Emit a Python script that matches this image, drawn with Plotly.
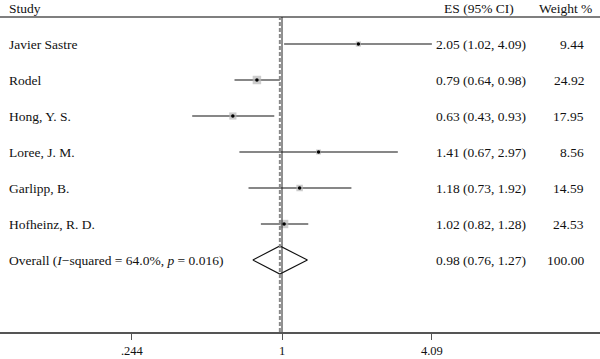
import plotly.graph_objects as go
import math

studies = ["Javier Sastre", "Rodel", "Hong, Y. S.", "Loree, J. M.", "Garlipp, B.", "Hofheinz, R. D."]
es = [2.05, 0.79, 0.63, 1.41, 1.18, 1.02]
lo = [1.02, 0.64, 0.43, 0.67, 0.73, 0.82]
hi = [4.09, 0.98, 0.93, 2.97, 1.92, 1.28]
weights = [9.44, 24.92, 17.95, 8.56, 14.59, 24.53]
overall_label = "Overall (<i>I</i>\u2212squared = 64.0%, <i>p</i> = 0.016)"
overall = {"es": 0.98, "lo": 0.76, "hi": 1.27, "weight": 100.00}
tick_vals = [0.244, 1, 4.09]
tick_text = [".244", "1", "4.09"]

W, H = 600, 359
FONT = "Liberation Serif"
n = len(studies)
rows = [n + 1 - i for i in range(n)]  # 7..2
orow = 1

fig = go.Figure()

# CI lines
for i in range(n):
    fig.add_trace(go.Scatter(x=[lo[i], hi[i]], y=[rows[i], rows[i]], mode="lines",
                             line=dict(color="#111", width=1.1), hoverinfo="skip", showlegend=False))
# weight boxes
fig.add_trace(go.Scatter(x=es, y=rows, mode="markers",
                         marker=dict(symbol="square", color="#b8b8b8",
                                     size=[1.7 * math.sqrt(w) for w in weights], line=dict(width=0)),
                         hoverinfo="skip", showlegend=False))
# center dots
fig.add_trace(go.Scatter(x=es, y=rows, mode="markers",
                         marker=dict(symbol="circle", color="black", size=3.5),
                         hoverinfo="skip", showlegend=False))
# diamond
dh = 0.39
fig.add_trace(go.Scatter(x=[overall["lo"], overall["es"], overall["hi"], overall["es"], overall["lo"]],
                         y=[orow, orow + dh, orow, orow - dh, orow], mode="lines",
                         line=dict(color="#111", width=1.1), hoverinfo="skip", showlegend=False))

ylo, yhi = -1, 1 + 260 / 36
yline = 1 + 243 / 36
yhead = 1 + 252 / 36

shapes = [
    dict(type="line", xref="paper", yref="y", x0=0, x1=1, y0=yline, y1=yline,
         line=dict(color="#555", width=1.5)),
    dict(type="line", xref="x", yref="y", x0=1, x1=1, y0=ylo, y1=yline,
         line=dict(color="#222", width=1)),
    dict(type="line", xref="x", yref="y", x0=overall["es"], x1=overall["es"], y0=ylo, y1=yline,
         line=dict(color="#888", width=2, dash="4px,2px")),
]

ann = []
def px(p):
    return p / W

ann.append(dict(x=px(7), y=yhead, text="Study", xanchor="left"))
ann.append(dict(x=px(516), y=yhead, text="ES (95% CI)", xanchor="right"))
ann.append(dict(x=px(594), y=yhead, text="Weight %", xanchor="right"))
for i in range(n):
    ann.append(dict(x=px(7), y=rows[i], text=studies[i], xanchor="left"))
    ann.append(dict(x=px(528), y=rows[i], text=f"{es[i]:.2f} ({lo[i]:.2f}, {hi[i]:.2f})", xanchor="right"))
    ann.append(dict(x=px(586), y=rows[i], text=f"{weights[i]:.2f}", xanchor="right"))
ann.append(dict(x=px(7), y=orow, text=overall_label, xanchor="left"))
ann.append(dict(x=px(528), y=orow,
                text=f"{overall['es']:.2f} ({overall['lo']:.2f}, {overall['hi']:.2f})", xanchor="right"))
ann.append(dict(x=px(586), y=orow, text=f"{overall['weight']:.2f}", xanchor="right"))
for a in ann:
    a.update(xref="paper", yref="y", showarrow=False, yanchor="middle",
             font=dict(family=FONT, size=13.5, color="#111"))

lpx = 245.0
fig.update_layout(
    width=W, height=H, margin=dict(l=0, r=0, t=0, b=27),
    paper_bgcolor="white", plot_bgcolor="white",
    font=dict(family=FONT, size=13, color="#111"),
    xaxis=dict(type="log", range=[-282 / lpx, 318 / lpx], tickvals=tick_vals, ticktext=tick_text,
               ticks="outside", ticklen=6, tickcolor="#555", tickwidth=1.3,
               showgrid=False, zeroline=False, showline=True, linecolor="#555", linewidth=1.5,
               tickfont=dict(family=FONT, size=12.5, color="#111")),
    yaxis=dict(range=[ylo, yhi], visible=False, showgrid=False, zeroline=False),
    shapes=shapes, annotations=ann, showlegend=False,
)
fig.write_html("out.html", config={"displayModeBar": False},
               post_script="document.body.style.margin='0';document.body.style.overflow='hidden';")
